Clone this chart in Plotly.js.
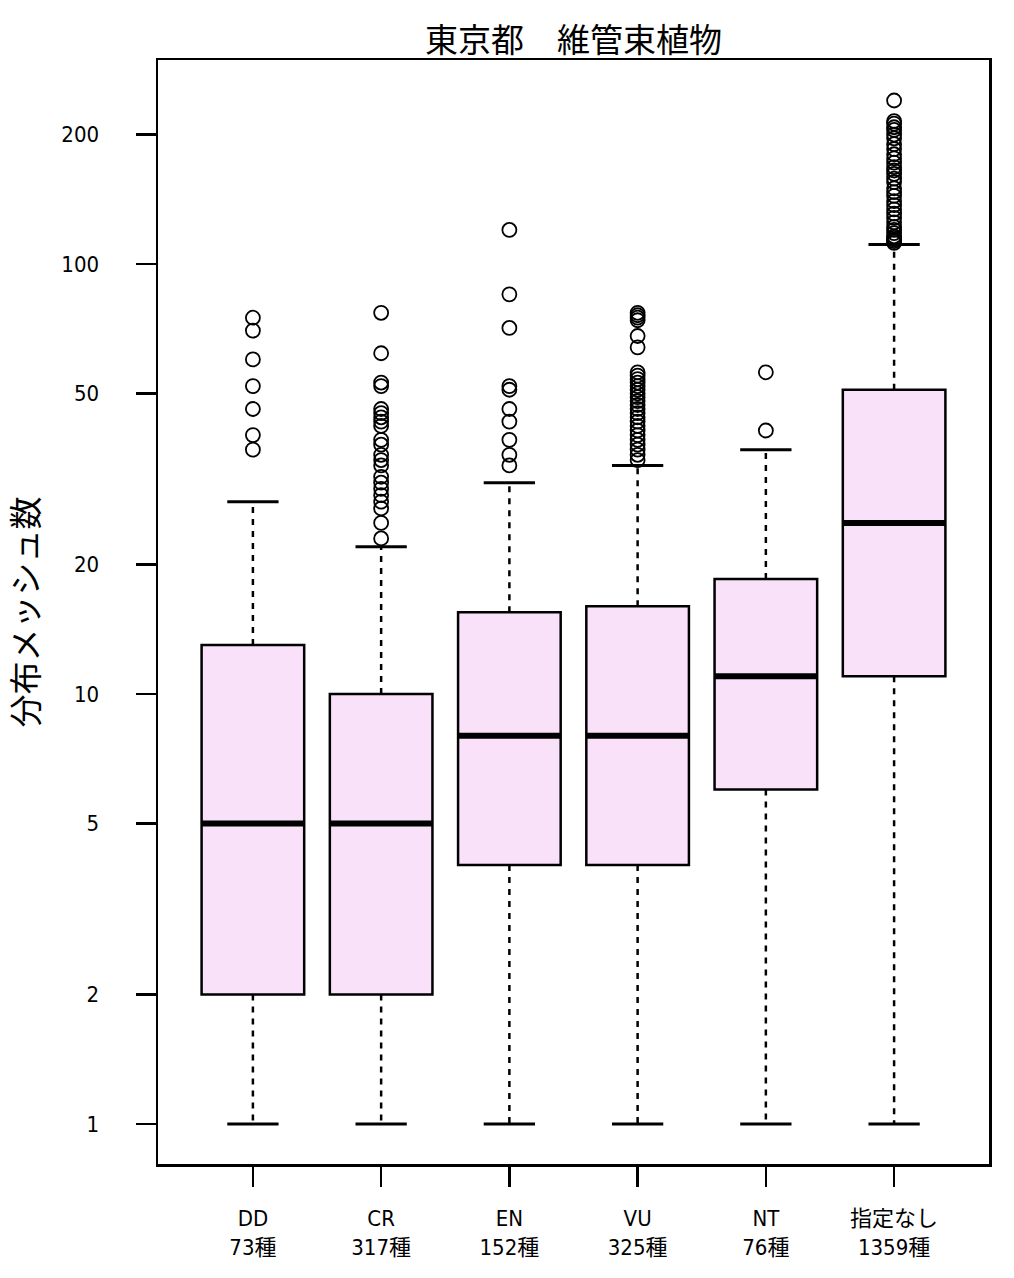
<!DOCTYPE html>
<html>
<head>
<meta charset="utf-8">
<script src="https://cdn.plot.ly/plotly-3.0.1.min.js"></script>
<style>html,body{margin:0;padding:0;background:#fff;}#chart{width:1014px;height:1278px;}</style>
</head>
<body>
<div id="chart"></div>
<script>
// ---- data ----
const categories = ["DD", "CR", "EN", "VU", "NT", "指定なし"];
const speciesCounts = [73, 317, 152, 325, 76, 1359];
const lowerWhisker = [1, 1, 1, 1, 1, 1];
const q1Values = [2, 2, 4, 4, 6, 11];
const medianValues = [5, 5, 8, 8, 11, 25];
const q3Values = [13, 10, 15.5, 16, 18.5, 51];
const upperWhisker = [28, 22, 31, 34, 37, 111];
const outliersDD = [75, 70, 60, 52, 46, 40, 37];
const outliersCR = [77, 62, 53, 52, 46, 45, 44, 43, 42, 39, 38, 36, 35, 34, 32, 31, 30, 29, 28, 27, 25, 23];
const outliersEN = [120, 85, 71, 52, 51, 46, 43, 39, 36, 34];
const outliersVU = [77, 76, 75, 74, 68, 64, 56, 55, 54, 53, 52, 51, 50, 49, 48, 47, 46, 45, 44, 43, 42, 41, 40, 39, 38, 37, 36, 35];
const outliersNT = [56, 41];
const outliersNone = [240, 215, 212, 208, 205, 200, 196, 190, 185, 180, 176, 172, 168, 165, 162, 158, 155, 150, 147, 144, 140, 137, 134, 131, 128, 125, 122, 120, 118, 116, 115, 114, 113, 112];
const yTickValues = [1, 2, 5, 10, 20, 50, 100, 200];
const chartTitle = "東京都　維管束植物";
const yTitle = "分布メッシュ数";

const outlierSets = [outliersDD, outliersCR, outliersEN, outliersVU, outliersNT, outliersNone];

// ---- styles ----
const fill = "#F9E1F9";
const boxWidth = 0.8;
const capWidth = 0.4;
const tickFont = {family: "'Liberation Sans Narrow', 'DejaVu Sans Condensed', 'Noto Sans CJK JP', sans-serif", size: 22, color: "#000"};
const cjkFont = {family: "'Noto Sans CJK JP', sans-serif", size: 33, color: "#000"};

const traces = [];
categories.forEach((c, i) => {
  const x = i + 1;
  // box body
  traces.push({
    type: "box", x: [x], q1: [q1Values[i]], median: [medianValues[i]], q3: [q3Values[i]],
    lowerfence: [q1Values[i]], upperfence: [q3Values[i]], width: boxWidth,
    fillcolor: fill, line: {color: "#000", width: 2.5}, boxpoints: false,
    hoverinfo: "skip", showlegend: false
  });
  // dashed whiskers
  traces.push({
    type: "scatter", mode: "lines", x: [x, x, null, x, x],
    y: [q3Values[i], upperWhisker[i], null, q1Values[i], lowerWhisker[i]],
    line: {color: "#000", width: 2.5, dash: "6px,6px"}, hoverinfo: "skip", showlegend: false
  });
  // caps
  traces.push({
    type: "scatter", mode: "lines",
    x: [x - capWidth / 2, x + capWidth / 2, null, x - capWidth / 2, x + capWidth / 2],
    y: [upperWhisker[i], upperWhisker[i], null, lowerWhisker[i], lowerWhisker[i]],
    line: {color: "#000", width: 3}, hoverinfo: "skip", showlegend: false
  });
  // thick median
  traces.push({
    type: "scatter", mode: "lines",
    x: [x - boxWidth / 2, x + boxWidth / 2], y: [medianValues[i], medianValues[i]],
    line: {color: "#000", width: 6}, hoverinfo: "skip", showlegend: false
  });
  // outliers
  traces.push({
    type: "scatter", mode: "markers",
    x: outlierSets[i].map(() => x), y: outlierSets[i],
    marker: {symbol: "circle-open", size: 14, color: "#000", line: {width: 1.8, color: "#000"}},
    hoverinfo: "skip", showlegend: false
  });
});

const layout = {
  width: 1014, height: 1278,
  margin: {l: 158, r: 25, t: 60, b: 114},
  paper_bgcolor: "#fff", plot_bgcolor: "#fff",
  title: {text: chartTitle, font: cjkFont, x: 0.5, xref: "paper", xanchor: "center",
          y: 1 - 40 / 1278, yref: "container", yanchor: "middle"},
  xaxis: {
    range: [0.26, 6.74], tickmode: "array", tickvals: categories.map((c, i) => i + 1),
    ticktext: categories.map((c, i) => c + "<br>" + speciesCounts[i] + "種"),
    ticks: "outside", ticklen: 20, tickwidth: 2.5, tickcolor: "#000",
    showline: true, linecolor: "#000", linewidth: 2.5, mirror: true,
    showgrid: false, zeroline: false, tickfont: tickFont, ticklabelstandoff: 13
  },
  yaxis: {
    type: "log", range: [-0.093, 2.4744], tickmode: "array", tickvals: yTickValues,
    ticktext: yTickValues.map(String),
    ticks: "outside", ticklen: 20, tickwidth: 2.5, tickcolor: "#000",
    showline: true, linecolor: "#000", linewidth: 2.5, mirror: true,
    showgrid: false, zeroline: false, tickfont: tickFont, ticklabelstandoff: 32,
    title: {text: yTitle, font: cjkFont, standoff: 26}
  }
};

Plotly.newPlot("chart", traces, layout, {staticPlot: true, displayModeBar: false});
</script>
</body>
</html>
